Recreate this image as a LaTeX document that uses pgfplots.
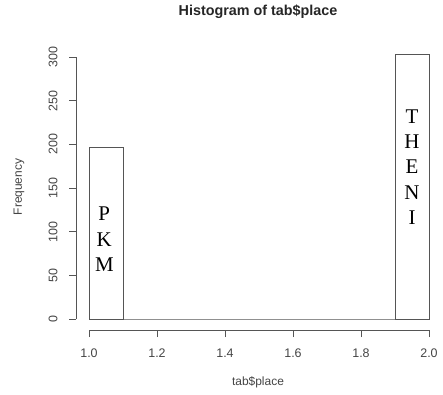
\documentclass[border=0pt]{standalone}
\usepackage{pgfplots}
\pgfplotsset{compat=1.18}
\usepackage{fontspec}
\setmainfont{Liberation Sans}
\newfontfamily\lettersfont{Liberation Serif}
\definecolor{axisgray}{HTML}{555555}
\definecolor{textgray}{HTML}{444444}

\begin{document}
\begin{tikzpicture}[x=1bp,y=1bp]
\path[use as bounding box] (0,0) rectangle (443,394);
\begin{axis}[
  at={(76bp,64bp)}, anchor=south west,
  scale only axis, width=366.6bp, height=286.1bp,
  xmin=0.96176, xmax=2.04, ymin=-12.6, ymax=315,
  axis x line*=bottom, axis y line*=left,
  axis line style={draw=none},
  xtick={1,1.2,1.4,1.6,1.8,2.0},
  xticklabels={1.0,1.2,1.4,1.6,1.8,2.0},
  ytick={0,50,...,300},
  tick align=outside, major tick length=7bp,
  tick style={axisgray, line width=0.8bp},
  /pgf/number format/assume math mode=true,
  ticklabel style={font=\fontsize{12.5}{14}\selectfont, text=textgray},
  yticklabel style={rotate=90, anchor=south},
  xticklabel shift=8bp, yticklabel shift=8bp,
  clip=false,
]
% histogram bins of width 0.1
\addplot[ybar interval, draw=axisgray, fill=white, line width=0.8bp]
  coordinates {(1.0,197) (1.1,0) (1.2,0) (1.3,0) (1.4,0) (1.5,0)
               (1.6,0) (1.7,0) (1.8,0) (1.9,303) (2.0,303)};
% R-style axis lines spanning only the tick range
\draw[axisgray, line width=0.8bp] (axis cs:1,-12.6) -- (axis cs:2,-12.6);
\draw[axisgray, line width=0.8bp] (axis cs:0.96176,0) -- (axis cs:0.96176,300);
% place names written down the bars
\node[font=\lettersfont\fontsize{21}{25.5}\selectfont, align=center, text=black]
  at (axis cs:1.045,91) {P\\K\\M};
\node[font=\lettersfont\fontsize{21}{25.5}\selectfont, align=center, text=black]
  at (axis cs:1.95,174) {T\\H\\E\\N\\I};
\end{axis}
\node[font=\bfseries\fontsize{14.4}{16}\selectfont, text=black!85] at (258,382) {Histogram of tab\$place};
\node[font=\fontsize{12}{14}\selectfont, text=textgray] at (258,12) {tab\$place};
\node[font=\fontsize{12}{14}\selectfont, text=textgray, rotate=90] at (19,207) {Frequency};
\end{tikzpicture}
\end{document}
